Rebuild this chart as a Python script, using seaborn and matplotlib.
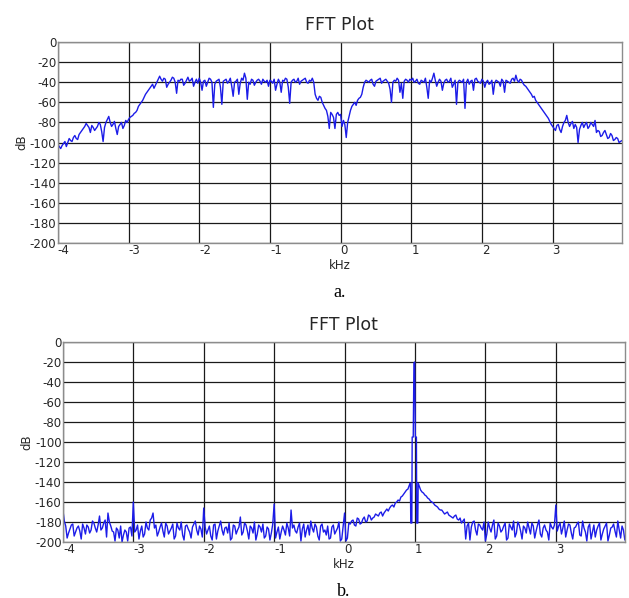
import numpy as np
import pandas as pd
import matplotlib
matplotlib.use("Agg")
import matplotlib.pyplot as plt
import seaborn as sns

# frequency bins (kHz), 0.04 kHz apart, plus the in-between bins
freq = np.round(np.arange(-4.0, 4.0, 0.04), 2)
freq_mid = np.round(freq + 0.02, 2)

# spectrum a. (dB), one row per kHz
db_a = [
    -102, -106, -101, -104, -96, -99, -93, -97, -90, -86, -81, -85, -83, -88, -84, -82, -99, -80, -74, -84, -79, -92, -82, -86, -78,
    -77, -74, -71, -68, -62, -58, -52, -48, -44, -46, -40, -34, -39, -37, -42, -38, -36, -51, -39, -37, -41, -35, -38, -44, -37,
    -36, -48, -38, -40, -37, -65, -39, -37, -62, -38, -41, -36, -54, -39, -52, -36, -31, -57, -42, -38, -40, -37, -42, -39, -38,
    -38, -41, -48, -37, -50, -39, -37, -61, -38, -40, -36, -39, -37, -40, -38, -36, -52, -58, -55, -63, -68, -86, -72, -86, -70,
    -72, -78, -95, -74, -64, -60, -58, -55, -45, -38, -40, -37, -44, -38, -36, -39, -37, -41, -60, -38, -36, -50, -56, -37, -40,
    -38, -40, -37, -42, -39, -36, -56, -40, -31, -44, -37, -48, -38, -40, -36, -42, -62, -38, -40, -66, -37, -39, -48, -36, -40,
    -37, -45, -38, -41, -52, -38, -40, -37, -50, -39, -41, -36, -33, -40, -38, -43, -46, -50, -55, -58, -62, -66, -70, -74, -79,
    -84, -88, -82, -90, -80, -73, -84, -79, -82, -100, -83, -85, -80, -84, -82, -78, -88, -94, -90, -92, -95, -93, -97, -96, -99,
]
db_a_mid = [
    -104, -103, -99, -100, -98, -95, -96, -92, -88, -84, -83, -90, -85, -86, -80, -89, -85, -77, -80, -82, -86, -84, -80, -83, -80,
    -75, -73, -70, -64, -60, -55, -50, -46, -42, -43, -37, -37, -36, -45, -40, -35, -40, -38, -37, -43, -38, -39, -36, -40, -41,
    -40, -39, -44, -36, -40, -42, -38, -45, -39, -37, -39, -44, -40, -37, -41, -38, -36, -40, -37, -43, -38, -39, -37, -40, -44,
    -39, -37, -42, -40, -38, -36, -45, -40, -37, -39, -42, -38, -36, -41, -39, -40, -56, -54, -60, -66, -74, -70, -75, -72, -73,
    -84, -82, -80, -68, -62, -63, -56, -52, -40, -39, -38, -42, -39, -37, -41, -38, -39, -47, -40, -39, -38, -41, -39, -38, -37,
    -36, -39, -41, -38, -40, -45, -38, -36, -38, -40, -39, -41, -37, -39, -45, -38, -40, -39, -37, -40, -42, -38, -37, -39, -41,
    -39, -40, -42, -38, -41, -39, -44, -39, -38, -40, -37, -39, -38, -37, -41, -44, -48, -52, -54, -60, -64, -68, -72, -76, -82,
    -86, -83, -87, -84, -78, -80, -81, -86, -85, -87, -80, -82, -86, -80, -84, -90, -89, -93, -88, -96, -91, -98, -95, -100, -98,
]

# spectrum b. (dB) noise floor, carrier bins left out (nan)
nan = np.nan
db_b = [
    -168, -184, -191, -183, -194, -186, -189, -182, -192, -185, -188, -181, -190, -174, -186, -178, -171, -184, -190, -186, -196, -200, -188, -199, -185,
    -160, -188, -197, -184, -192, -186, -178, -171, -183, -190, -181, -195, -184, -189, -182, -194, -186, -180, -198, -183, -190, -185, -179, -193, -187,
    -166, -192, -184, -198, -182, -189, -179, -193, -185, -181, -196, -184, -188, -175, -190, -183, -197, -186, -180, -192, -185, -182, -194, -187, -191,
    -162, -190, -197, -184, -193, -186, -168, -183, -191, -181, -187, -195, -183, -179, -190, -185, -198, -182, -188, -184, -196, -183, -189, -180, -197,
    -171, -196, -182, -178, -184, -177, -181, -175, -179, -174, -176, -172, -174, -170, -171, -167, -166, -163, -161, -158, -155, -152, -148, nan, nan,
    nan, nan, -148, -151, -154, -157, -160, -163, -165, -168, -170, -171, -173, -175, -174, -177, -176, -179, -197, -181, -185, -179, -193, -183, -188,
    -199, -180, -190, -178, -194, -184, -188, -181, -196, -185, -179, -191, -183, -197, -186, -180, -192, -184, -189, -178, -195, -183, -190, -181, -187,
    -163, -184, -192, -179, -188, -183, -197, -185, -180, -194, -186, -199, -182, -190, -195, -184, -198, -187, -181, -193, -185, -189, -179, -196, -188,
]
db_b_mid = [
    -179, -196, -187, -182, -190, -184, -197, -186, -183, -191, -179, -186, -183, -188, -181, -195, -180, -189, -199, -188, -184, -193, -190, -186, -194,
    -190, -183, -189, -195, -180, -188, -176, -186, -194, -185, -189, -181, -192, -186, -197, -181, -188, -193, -184, -187, -196, -182, -188, -184, -195,
    -185, -188, -194, -183, -197, -184, -188, -186, -191, -198, -183, -192, -185, -193, -181, -189, -184, -191, -198, -183, -190, -196, -185, -198, -182,
    -196, -185, -190, -188, -181, -194, -186, -189, -185, -199, -182, -188, -193, -186, -182, -194, -184, -190, -193, -197, -185, -192, -186, -199, -184,
    -199, -181, -179, -183, -176, -182, -177, -180, -173, -178, -175, -173, -171, -174, -169, -169, -164, -165, -160, -159, -154, -150, nan, nan, nan,
    nan, nan, -150, -153, -156, -159, -161, -164, -167, -168, -172, -170, -174, -176, -173, -178, -181, -177, -184, -198, -180, -188, -182, -186, -180,
    -192, -186, -183, -197, -181, -190, -184, -198, -182, -188, -195, -180, -189, -184, -191, -186, -181, -196, -183, -192, -186, -188, -198, -185, -183,
    -189, -181, -186, -195, -182, -191, -186, -182, -193, -179, -190, -185, -197, -183, -188, -181, -192, -184, -199, -186, -182, -195, -188, -184, -198,
]

# 1 kHz carrier, finer bins
peak_f = [0.90, 0.92, 0.935, 0.94, 0.955, 0.96, 0.975, 0.985, 0.995, 1.005, 1.02, 1.025, 1.04, 1.045, 1.06]
peak_db = [-147, -143, -141, -181, -181, -95, -95, -21, -20, -95, -95, -181, -181, -141, -144]

df_a = pd.concat([pd.DataFrame({"kHz": freq, "dB": db_a}),
                  pd.DataFrame({"kHz": freq_mid, "dB": db_a_mid})]).sort_values("kHz")
df_b = pd.concat([pd.DataFrame({"kHz": freq, "dB": db_b}),
                  pd.DataFrame({"kHz": freq_mid, "dB": db_b_mid}),
                  pd.DataFrame({"kHz": peak_f, "dB": peak_db})]).dropna().sort_values("kHz")

sns.set_style("white")
plt.rcParams['font.family'] = ['DejaVu Sans']
plt.rcParams['axes.unicode_minus'] = False

fig = plt.figure(figsize=(6.29, 5.98), dpi=100)
ax1 = fig.add_axes([0.092, 0.5936, 0.8967, 0.3361])
ax2 = fig.add_axes([0.100, 0.0936, 0.8934, 0.3344])

for ax, df, cap in [(ax1, df_a, "a."), (ax2, df_b, "b.")]:
    sns.lineplot(data=df, x="kHz", y="dB", ax=ax, color="#1c1ce8",
                 linewidth=1.0, estimator=None, sort=True)
    ax.set_xlim(-4, 3.98)
    ax.set_ylim(-200, 0)
    ax.set_xticks(range(-4, 4))
    ax.set_yticks(range(-200, 1, 20))
    ax.grid(True, color="0.1", linewidth=0.9)
    ax.set_axisbelow(True)
    for s in ax.spines.values():
        s.set_color("0.55")
        s.set_linewidth(1.0)
    ax.tick_params(axis="both", length=0, pad=1, labelsize=8.5, colors="0.15")
    for lab in ax.get_xticklabels():
        lab.set_horizontalalignment("left")
    ax.set_title("FFT Plot", fontsize=12.5, color="0.15", pad=9)
    ax.set_xlabel("kHz", fontsize=8.5, color="0.15", labelpad=1)
    ax.set_ylabel("dB", fontsize=8.5, color="0.15", labelpad=1)
    ax.text(0.5, -0.245, cap, transform=ax.transAxes, ha="center", va="center",
            fontsize=13, family="Liberation Serif", color="black")

fig.savefig("out.png", dpi=100)
